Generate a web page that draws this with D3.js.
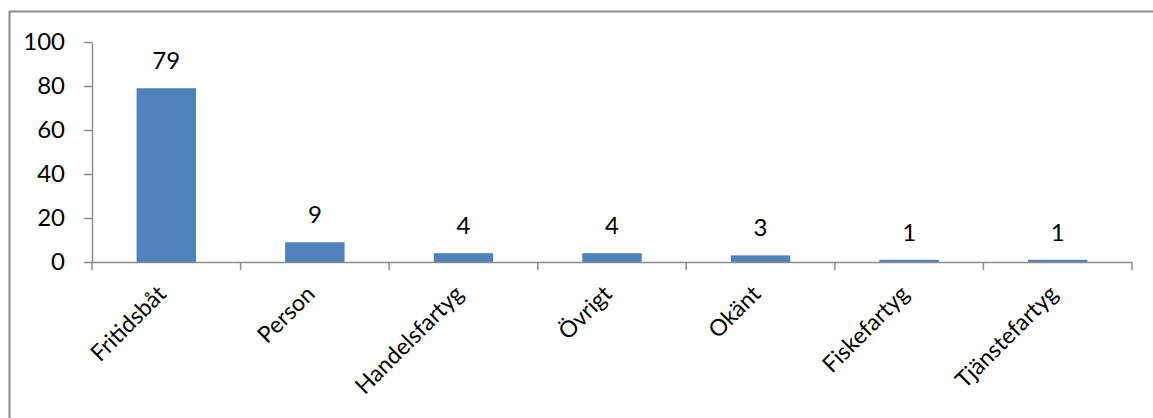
<!DOCTYPE html>
<html><head><meta charset="utf-8">
<script src="https://cdn.jsdelivr.net/npm/d3@7"></script>
<style>
html,body{margin:0;padding:0;background:#fff;}
svg{display:block;}
text{font-family:Lato,"Open Sans",sans-serif;fill:#000;}
</style></head><body>
<svg id="c" width="1153" height="418"></svg>
<script>
const categories = ["Fritidsbåt","Person","Handelsfartyg","Övrigt","Okänt","Fiskefartyg","Tjänstefartyg"];
const values = [79,9,4,4,3,1,1];
const yTicks = [0,20,40,60,80,100];

const svg = d3.select("#c");
svg.append("rect").attr("x",9.5).attr("y",11.5).attr("width",1160).attr("height",420)
  .attr("fill","none").attr("stroke","#8c8c8c").attr("stroke-width",2);

const x0 = 92, x1 = 1132, yTop = 42, yBot = 262;
const x = d3.scaleBand().domain(categories).range([x0,x1]).paddingInner(0).paddingOuter(0);
const y = d3.scaleLinear().domain([0,100]).range([yBot,yTop]);
const barW = x.bandwidth()*0.4;
const FS = "24px";

const g = svg.append("g");
const yAxis = d3.axisLeft(y).tickValues(yTicks).tickSize(8).tickPadding(19).tickSizeOuter(0);
const ya = g.append("g").attr("transform",`translate(${x0},0)`).call(yAxis);
ya.select(".domain").attr("stroke","#8c8c8c").attr("stroke-width",1.5);
ya.selectAll(".tick line").attr("stroke","#8c8c8c").attr("stroke-width",1.5);
ya.selectAll(".tick text").style("font-size",FS).attr("font-family","Lato");

g.selectAll("rect.bar").data(values).enter().append("rect").attr("class","bar")
  .attr("x",(d,i)=>x(categories[i])+x.bandwidth()/2-barW/2)
  .attr("y",d=>y(d)).attr("width",barW).attr("height",d=>yBot-y(d))
  .attr("fill","#4f81bd");

const xAxis = d3.axisBottom(x).tickSize(0).tickFormat("");
const xa = g.append("g").attr("transform",`translate(0,${yBot})`).call(xAxis);
xa.select(".domain").attr("stroke","#8c8c8c").attr("stroke-width",1.5);
const bounds = categories.map(c=>x(c)).concat([x1]);
xa.selectAll("line.cat").data(bounds).enter().append("line").attr("class","cat")
  .attr("x1",d=>d).attr("x2",d=>d).attr("y1",0).attr("y2",8)
  .attr("stroke","#8c8c8c").attr("stroke-width",1.5);

g.selectAll("text.cat").data(categories).enter().append("text").attr("class","cat")
  .attr("transform",d=>`translate(${x(d)+x.bandwidth()/2-10},${yBot+22}) rotate(-45)`)
  .attr("text-anchor","end").attr("dy","0.7em")
  .style("font-size","23px").text(d=>d);

g.selectAll("text.val").data(values).enter().append("text").attr("class","val")
  .attr("x",(d,i)=>x(categories[i])+x.bandwidth()/2)
  .attr("y",d=>y(d)-19).attr("text-anchor","middle")
  .style("font-size",FS).text(d=>d);
</script>
</body></html>
